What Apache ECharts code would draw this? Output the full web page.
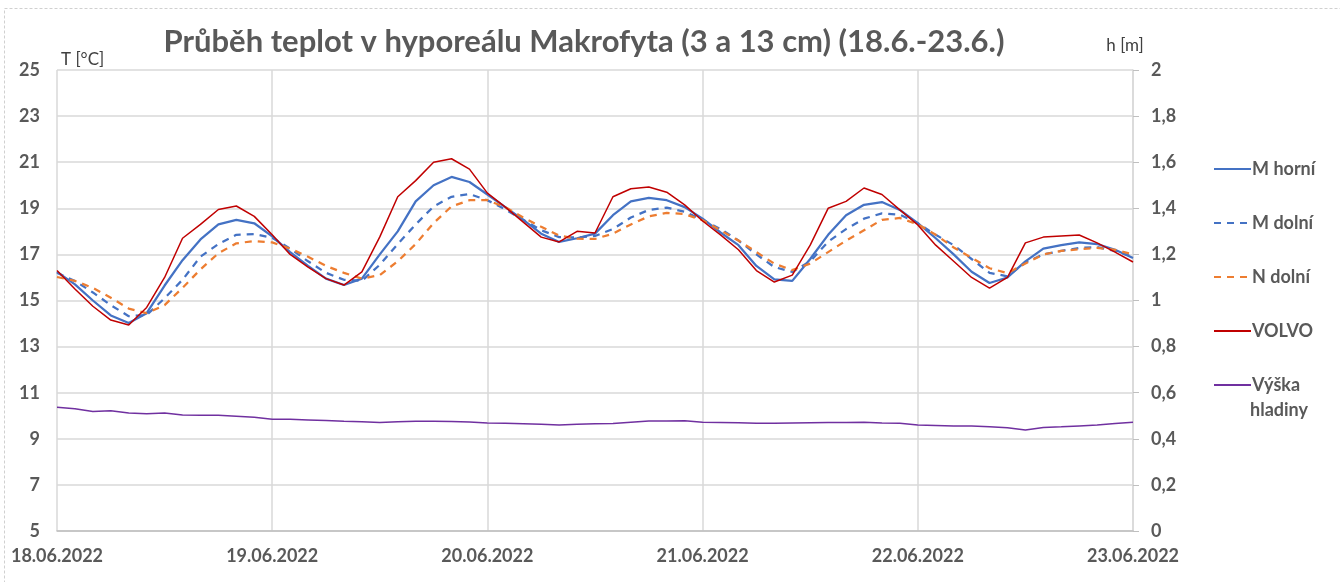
<!DOCTYPE html>
<html>
<head>
<meta charset="utf-8">
<script src="https://cdn.jsdelivr.net/npm/echarts@6/dist/echarts.min.js"></script>
<style>
  html, body { margin: 0; padding: 0; background: #fff; }
  #chart { width: 1340px; height: 582px; }
</style>
</head>
<body>
<div id="chart"></div>
<script>
// hodiny od 18.06.2022 00:00, krok 2 h
const hours = Array.from({ length: 61 }, (_, i) => i * 2)
const dayLabels = ['18.06.2022', '19.06.2022', '20.06.2022', '21.06.2022', '22.06.2022', '23.06.2022']

const mHorni = [16.24, 15.7, 15.0, 14.35, 14.02, 14.45, 15.65, 16.75, 17.65, 18.3,
  18.5, 18.35, 17.78, 17.1, 16.5, 15.95, 15.67, 15.95, 17.0, 18.0,
  19.3, 20.0, 20.36, 20.14, 19.6, 19.05, 18.5, 17.9, 17.54, 17.7,
  17.9, 18.7, 19.3, 19.45, 19.35, 19.05, 18.55, 17.95, 17.4, 16.5,
  15.92, 15.85, 16.8, 17.85, 18.7, 19.15, 19.27, 18.93, 18.36, 17.7,
  17.0, 16.25, 15.76, 16.0, 16.7, 17.25, 17.4, 17.52, 17.45, 17.2, 16.84]

const mDolni = [16.2, 15.85, 15.35, 14.8, 14.32, 14.37, 15.1, 15.9, 16.9, 17.45,
  17.85, 17.88, 17.72, 17.25, 16.7, 16.2, 15.9, 15.85, 16.55, 17.45,
  18.3, 19.08, 19.5, 19.62, 19.35, 18.95, 18.5, 18.05, 17.75, 17.73,
  17.8, 18.1, 18.6, 18.93, 19.03, 18.85, 18.5, 18.1, 17.6, 17.0,
  16.45, 16.24, 16.7, 17.55, 18.1, 18.55, 18.78, 18.72, 18.35, 17.85,
  17.4, 16.8, 16.2, 16.05, 16.65, 17.0, 17.15, 17.28, 17.32, 17.15, 16.9]

const nDolni = [16.02, 15.85, 15.55, 15.12, 14.65, 14.45, 14.8, 15.55, 16.35, 17.05,
  17.48, 17.58, 17.52, 17.25, 16.9, 16.5, 16.2, 15.95, 16.1, 16.7,
  17.45, 18.36, 19.08, 19.35, 19.35, 19.05, 18.6, 18.2, 17.82, 17.68,
  17.67, 17.9, 18.3, 18.65, 18.8, 18.75, 18.48, 18.05, 17.6, 17.1,
  16.6, 16.32, 16.6, 17.1, 17.6, 18.05, 18.5, 18.58, 18.3, 17.85,
  17.3, 16.85, 16.4, 16.19, 16.6, 17.0, 17.15, 17.22, 17.28, 17.2, 17.0]

const volvo = [16.3, 15.5, 14.75, 14.15, 13.94, 14.7, 16.0, 17.7, 18.3, 18.95,
  19.1, 18.65, 17.85, 17.0, 16.45, 15.95, 15.67, 16.24, 17.76, 19.5,
  20.2, 21.0, 21.15, 20.7, 19.66, 19.05, 18.4, 17.75, 17.54, 18.0,
  17.93, 19.5, 19.85, 19.92, 19.7, 19.15, 18.45, 17.85, 17.2, 16.3,
  15.8, 16.1, 17.4, 19.0, 19.3, 19.88, 19.6, 18.93, 18.28, 17.4,
  16.7, 16.0, 15.54, 16.0, 17.5, 17.75, 17.8, 17.84, 17.5, 17.1, 16.67]

const hladina = [0.537, 0.530, 0.518, 0.522, 0.512, 0.509, 0.512, 0.503, 0.502, 0.502,
  0.498, 0.494, 0.485, 0.485, 0.482, 0.479, 0.476, 0.474, 0.471, 0.474,
  0.476, 0.476, 0.475, 0.473, 0.469, 0.467, 0.465, 0.463, 0.460, 0.463,
  0.465, 0.466, 0.472, 0.477, 0.477, 0.478, 0.472, 0.471, 0.470, 0.468,
  0.467, 0.469, 0.470, 0.471, 0.471, 0.472, 0.469, 0.467, 0.460, 0.458,
  0.456, 0.455, 0.452, 0.448, 0.438, 0.449, 0.452, 0.456, 0.460, 0.466, 0.472]

const pairs = (vals) => vals.map((v, i) => [hours[i], v])

const font = 'Lato, "Open Sans", sans-serif'
const gray = '#595959'

const myChart = echarts.init(document.getElementById('chart'), null, { renderer: 'canvas' })

myChart.setOption({
    animation: false,
    backgroundColor: '#fff',
    textStyle: { fontFamily: font },
    title: {
        text: 'Průběh teplot v hyporeálu Makrofyta (3 a 13 cm) (18.6.-23.6.)',
        left: 579,
        top: 21,
        textAlign: 'center',
        textStyle: { fontFamily: font, fontSize: 31, fontWeight: 'bold', color: gray }
    },
    graphic: [
        {
            type: 'rect',
            shape: { x: 4.5, y: 8.5, width: 1400, height: 700 },
            style: { fill: 'none', stroke: '#d0d0d0', lineWidth: 1, lineDash: [3, 2] },
            silent: true
        },
        {
            // druhý řádek legendy „Výška hladiny“
            type: 'text',
            left: 1250,
            top: 401,
            style: { text: 'hladiny', fontFamily: font, fontSize: 18, fontWeight: 'bold', fill: gray }
        }
    ],
    legend: {
        orient: 'vertical',
        left: 1208,
        top: 155,
        itemWidth: 37,
        itemHeight: 14,
        itemGap: 36,
        itemStyle: { opacity: 0 },
        textStyle: { fontFamily: font, fontSize: 18, fontWeight: 'bold', color: gray, padding: [0, 0, 0, -4] },
        data: ['M horní', 'M dolní', 'N dolní', 'VOLVO', 'Výška hladiny'],
        formatter: (name) => name === 'Výška hladiny' ? 'Výška' : name
    },
    grid: { left: 57, right: 207, top: 70, bottom: 51, containLabel: false },
    xAxis: {
        type: 'value',
        min: 0,
        max: 120,
        interval: 24,
        axisLine: { show: true, lineStyle: { color: '#bfbfbf', width: 1.5 } },
        axisTick: { show: false },
        splitLine: { show: true, lineStyle: { color: '#d9d9d9', width: 1.5 } },
        axisLabel: {
            margin: 16,
            fontFamily: font,
            fontSize: 18,
            fontWeight: 'bold',
            color: gray,
            formatter: (v) => dayLabels[Math.round(v / 24)]
        }
    },
    yAxis: [
        {
            type: 'value',
            min: 5,
            max: 25,
            interval: 2,
            name: 'T [°C]',
            nameLocation: 'end',
            nameGap: 10,
            nameTextStyle: { fontFamily: font, fontSize: 17, color: '#404040', align: 'left', verticalAlign: 'middle', padding: [0, 0, 0, 4] },
            axisLine: { show: false },
            axisTick: { show: false },
            splitLine: { show: true, lineStyle: { color: '#d9d9d9', width: 1.5 } },
            axisLabel: { margin: 17, fontFamily: font, fontSize: 18, fontWeight: 'bold', color: gray }
        },
        {
            type: 'value',
            min: 0,
            max: 2,
            interval: 0.2,
            position: 'right',
            name: 'h [m]',
            nameLocation: 'end',
            nameGap: 24,
            nameTextStyle: { fontFamily: font, fontSize: 17, color: '#404040', align: 'center', verticalAlign: 'middle', padding: [0, 16, 0, 0] },
            axisLine: { show: true, lineStyle: { color: '#d9d9d9', width: 1.5 } },
            axisTick: { show: true, inside: false, length: 6, lineStyle: { color: '#bfbfbf' } },
            splitLine: { show: false },
            axisLabel: {
                margin: 18,
                fontFamily: font,
                fontSize: 18,
                fontWeight: 'bold',
                color: gray,
                formatter: (v) => String(Math.round(v * 10) / 10).replace('.', ',')
            }
        }
    ],
    series: [
        {
            name: 'M horní', type: 'line', yAxisIndex: 0, data: pairs(mHorni),
            showSymbol: false, symbol: 'none',
            lineStyle: { color: '#4472C4', width: 2.25 }, itemStyle: { color: '#4472C4' }
        },
        {
            name: 'M dolní', type: 'line', yAxisIndex: 0, data: pairs(mDolni),
            showSymbol: false, symbol: 'none',
            lineStyle: { color: '#4472C4', width: 2.25, type: [7, 6] }, itemStyle: { color: '#4472C4' }
        },
        {
            name: 'N dolní', type: 'line', yAxisIndex: 0, data: pairs(nDolni),
            showSymbol: false, symbol: 'none',
            lineStyle: { color: '#ED7D31', width: 2.25, type: [7, 6] }, itemStyle: { color: '#ED7D31' }
        },
        {
            name: 'VOLVO', type: 'line', yAxisIndex: 0, data: pairs(volvo),
            showSymbol: false, symbol: 'none',
            lineStyle: { color: '#C00000', width: 1.5 }, itemStyle: { color: '#C00000' }
        },
        {
            name: 'Výška hladiny', type: 'line', yAxisIndex: 1, data: pairs(hladina),
            showSymbol: false, symbol: 'none',
            lineStyle: { color: '#7030A0', width: 1.5 }, itemStyle: { color: '#7030A0' }
        }
    ]
})
</script>
</body>
</html>
